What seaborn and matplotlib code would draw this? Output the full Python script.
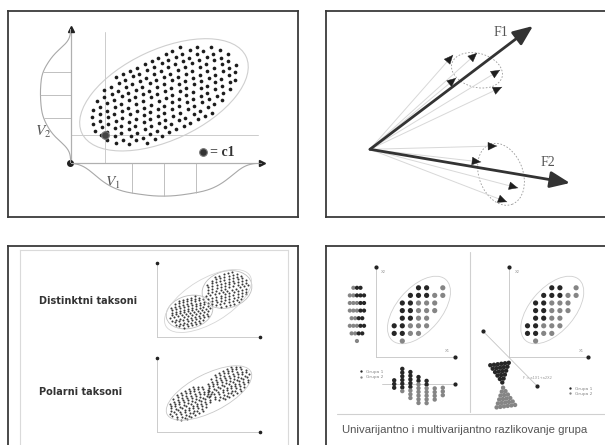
import numpy as np
import pandas as pd
import matplotlib
matplotlib.use("Agg")
import matplotlib.pyplot as plt
import seaborn as sns
from matplotlib.patches import Ellipse
from matplotlib.transforms import Affine2D
from matplotlib.lines import Line2D

# ---------------------------------------------------------------- data
# dot pattern of a 2:1 cloud (v row, u positions), in hundredths
TEMPLATE_ROWS = [
    (-88, [-86, -64, -47, -27, -9, 12, 29, 51, 68, 87]),
    (-72, [-128, -108, -91, -70, -53, -31, -14, 7, 24, 46, 63, 84, 101, 122]),
    (-56, [-154, -137, -115, -99, -77, -61, -39, -22, -1, 17, 38, 55, 76, 94, 115, 132, 152]),
    (-40, [-171, -150, -133, -112, -95, -73, -56, -35, -18, 3, 21, 42, 59, 80, 97, 118, 136, 157, 173]),
    (-24, [-181, -164, -142, -125, -105, -87, -66, -49, -28, -11, 11, 28, 49, 66, 88, 105, 126, 143, 164, 180]),
    (-8, [-188, -170, -153, -132, -115, -94, -77, -56, -39, -18, 1, 18, 39, 56, 78, 95, 116, 133, 154, 171, 189]),
    (8, [-186, -168, -147, -130, -109, -92, -71, -53, -32, -15, 6, 23, 44, 61, 82, 99, 120, 137, 159, 176]),
    (24, [-181, -159, -142, -121, -104, -83, -66, -45, -28, -7, 11, 32, 49, 70, 87, 108, 125, 146, 163, 182]),
    (40, [-171, -154, -133, -116, -95, -78, -57, -40, -19, -2, 19, 36, 57, 74, 95, 112, 133, 150, 170]),
    (56, [-153, -135, -114, -97, -76, -59, -38, -21, 0, 17, 38, 55, 77, 94, 115, 132, 152]),
    (72, [-126, -109, -87, -70, -49, -32, -11, 6, 27, 44, 65, 82, 103, 121]),
    (88, [-87, -70, -49, -32, -11, 8, 25, 46, 63, 85]),
]

# panel A (V1, V2 scatter)
CLOUD_A_CENTER = (4.87, 3.56)
CLOUD_A_SCALE = 2.15
CLOUD_A_ANGLE = 25
CENTROID_A = (1.77, 1.47)
AXIS_A = (10.0, 7.0)

# panel B (factor vectors)
F_NAMES = ["F1", "F2"]
F_X = [16.3, 20.0]
F_Y = [12.33, -3.37]
VEC_X = [8.3, 10.7, 8.6, 13.0, 13.2, 12.7, 11.1, 14.8, 13.7]
VEC_Y = [9.43, 9.63, 7.13, 7.93, 6.23, 0.33, -1.27, -3.87, -5.27]

# panel C (taxa)
TAXA_TITLES = ["Distinktni taksoni", "Polarni taksoni"]
DIST_CX = [3.25, 7.0]
DIST_CY = [2.5, 4.75]
DIST_SU = [1.08, 1.15]
DIST_SV = [1.55, 1.75]
POLAR_CX = [3.3, 7.1]
POLAR_CY = [2.9, 4.9]
POLAR_SU = [1.2, 1.2]
POLAR_SV = [1.5, 1.5]

# panel D (groups on a grid)
GRID_C = [3, 4, 6, 2, 3, 4, 5, 6, 1, 2, 3, 4, 5, 1, 2, 3, 4, 5, 1, 2, 3, 4,
          0, 1, 2, 3, 4, 0, 1, 2, 3, 1]
GRID_R = [7, 7, 7, 6, 6, 6, 6, 6, 5, 5, 5, 5, 5, 4, 4, 4, 4, 4, 3, 3, 3, 3,
          2, 2, 2, 2, 2, 1, 1, 1, 1, 0]
GRID_G = [1, 1, 2, 1, 1, 1, 2, 2, 1, 1, 2, 2, 2, 1, 1, 2, 2, 2, 1, 1, 2, 2,
          1, 1, 2, 2, 2, 1, 1, 2, 2, 2]
GROUP_NAMES = {1: "Grupa 1", 2: "Grupa 2"}
STACK_COUNTS = [3, 7, 8, 8, 7, 4, 3]
STACK_CENTER_R = [-5.66, -5.13, -5.79, -6.45, -6.71, -6.97, -6.64]
HOUR_G1 = [6, 5, 4, 3, 2, 1]
HOUR_G2 = [1, 2, 3, 4, 5, 6]
TITLE_D = "Univarijantno i multivarijantno razlikovanje grupa"

# ---------------------------------------------------------------- setup
sns.set_theme(style="white")
plt.rcParams["font.family"] = ["DejaVu Sans"]
plt.rcParams["mathtext.fontset"] = "stix"

W, H = 605, 445
fig = plt.figure(figsize=(W / 100, H / 100), dpi=100)
fig.patch.set_facecolor("white")

DARK = "#3a3a3a"
GRAY_PAL = {"Grupa 1": "#262626", "Grupa 2": "#858585"}


def px_axes(x0, y0, x1, y1, z=1):
    ax = fig.add_axes([x0 / W, 1 - y1 / H, (x1 - x0) / W, (y1 - y0) / H], zorder=z)
    ax.set_facecolor("none")
    ax.set_xticks([])
    ax.set_yticks([])
    return ax


def frame(ax, sides=("left", "right", "top", "bottom"), color=DARK, lw=1.3):
    for k, sp in ax.spines.items():
        sp.set_visible(k in sides)
        sp.set_color(color)
        sp.set_linewidth(lw)


def clean(ax):
    ax.set_xlabel("")
    ax.set_ylabel("")
    ax.set_xticks([])
    ax.set_yticks([])


def fig_line(x0, y0, x1, y1, color="#d0d0d0", lw=0.8):
    fig.add_artist(Line2D([x0 / W, x1 / W], [1 - y0 / H, 1 - y1 / H],
                          color=color, lw=lw, transform=fig.transFigure))


tu = np.array([u for v, us in TEMPLATE_ROWS for u in us]) / 100.0
tv = np.array([v for v, us in TEMPLATE_ROWS for u in us]) / 100.0
TEMPLATE = np.column_stack([tu, tv])

# ================================================================ panel A
axA = px_axes(8, 10.5, 298, 216.5)
frame(axA)
sA = 19.15
trA = Affine2D().scale(CLOUD_A_SCALE).rotate_deg(CLOUD_A_ANGLE).translate(*CLOUD_A_CENTER)
ptsA = trA.transform(TEMPLATE)
dfA = pd.DataFrame({"V1": ptsA[:, 0], "V2": ptsA[:, 1]})

axA.add_patch(Ellipse(CLOUD_A_CENTER, 2 * 2.2 * CLOUD_A_SCALE, 2 * 1.1 * CLOUD_A_SCALE,
                      angle=CLOUD_A_ANGLE, fc="none", ec="#cfcfcf", lw=0.8))
axA.plot([CENTROID_A[0]] * 2, [0, 6.86], color="#cccccc", lw=0.7)
axA.plot([0, 9.8], [CENTROID_A[1]] * 2, color="#cccccc", lw=0.7)
axA.plot([0, AXIS_A[0]], [0, 0], color="#b0b0b0", lw=0.9)
axA.plot([0, 0], [0, AXIS_A[1]], color="#b0b0b0", lw=0.9)
sns.scatterplot(data=dfA, x="V1", y="V2", ax=axA, s=7, color="#1c1c1c",
                linewidth=0, legend=False, zorder=3)
axA.plot([AXIS_A[0]], [0], marker=">", color="#222", ms=4)
axA.plot([0], [AXIS_A[1]], marker="^", color="#222", ms=4)
axA.plot([-0.05], [-0.02], marker="o", color="#222", ms=4)
axA.plot([CENTROID_A[0]], [CENTROID_A[1]], marker="o", color="#444", ms=5.5,
         mec="#777", mew=0.8, zorder=4)
axA.plot([6.92], [0.57], marker="o", color="#333", ms=5.5, mec="#777", mew=0.8)
axA.text(7.25, 0.57, "= c1", fontsize=10, fontweight="bold", family="Liberation Serif",
         color="#333", va="center", ha="left")
axA.text(2.2, -1.04, "$V_1$", fontsize=11, color="#555", ha="center", va="center")
axA.text(-1.45, 1.62, "$V_2$", fontsize=11, color="#555", ha="center", va="center")
clean(axA)
axA.set_xlim(-(70.7 - 8) / sA, (298 - 70.7) / sA)
axA.set_ylim(-(216.5 - 163) / sA, (163 - 10.5) / sA)

# marginal of V1 (hanging below the axis)
insX = axA.inset_axes([0, -1.8, 10, 1.8], transform=axA.transData)
sns.kdeplot(x=dfA["V1"], ax=insX, color="#a8a8a8", lw=0.8, bw_adjust=0.75)
xd, yd = insX.lines[0].get_data()
insX.set_xlim(0, 10)
insX.set_ylim(yd.max() * 1.8 / 1.73, 0)
m, sd = dfA["V1"].mean(), dfA["V1"].std()
q = np.array([m - 0.85 * sd, m, m + 0.85 * sd])
insX.vlines(q, 0, np.interp(q, xd, yd), color="#b5b5b5", lw=0.6)
clean(insX)
insX.set_axis_off()

# marginal of V2 (left of the axis)
insY = axA.inset_axes([-1.7, 0, 1.7, 7], transform=axA.transData)
sns.kdeplot(y=dfA["V2"], ax=insY, color="#a8a8a8", lw=0.8, bw_adjust=0.75)
dd, yy = insY.lines[0].get_data()
insY.set_ylim(0, 7)
insY.set_xlim(dd.max() * 1.7 / 1.58, 0)
m, sd = dfA["V2"].mean(), dfA["V2"].std()
q = np.array([m - 0.9 * sd, m, m + 0.9 * sd])
order = np.argsort(yy)
insY.hlines(q, 0, np.interp(q, yy[order], dd[order]), color="#b5b5b5", lw=0.6)
clean(insY)
insY.set_axis_off()

# ================================================================ panel B
axB = px_axes(326, 10.5, 607, 216.5)
frame(axB, sides=("left", "top", "bottom"))
for x, y in zip(VEC_X, VEC_Y):
    axB.plot([0, x], [0, y], color="#d8d8d8", lw=0.7)
for x, y in zip(VEC_X, VEC_Y):
    L = np.hypot(x, y)
    axB.annotate("", xy=(x, y), xytext=(x - x / L * 0.05, y - y / L * 0.05),
                 arrowprops=dict(arrowstyle="-|>,head_length=0.55,head_width=0.25",
                                 color="#1e1e1e", lw=0.3, mutation_scale=11,
                                 shrinkA=0, shrinkB=0))
axB.add_patch(Ellipse((10.7, 7.9), 5.2, 3.4, angle=-15, fc="none", ec="#999",
                      lw=0.6, ls=(0, (2, 2))))
axB.add_patch(Ellipse((13.1, -2.5), 4.4, 6.4, angle=20, fc="none", ec="#999",
                      lw=0.6, ls=(0, (2, 2))))
for name, x, y in zip(F_NAMES, F_X, F_Y):
    axB.annotate("", xy=(x, y), xytext=(0, 0),
                 arrowprops=dict(arrowstyle="-|>,head_length=0.6,head_width=0.25",
                                 color="#333", lw=2.0, mutation_scale=20,
                                 shrinkA=0, shrinkB=0))
axB.text(12.4, 11.7, F_NAMES[0], fontsize=10, family="Liberation Serif", color="#555",
         ha="left", va="center")
axB.text(17.1, -1.37, F_NAMES[1], fontsize=10, family="Liberation Serif", color="#555",
         ha="left", va="center")
axB.set_xlim(-(370 - 326) / 10, (607 - 370) / 10)
axB.set_ylim(-(216.5 - 149.3) / 10, (149.3 - 10.5) / 10)
clean(axB)

# ================================================================ panel C
axC = px_axes(8, 246, 298, 447)
frame(axC, sides=("left", "right", "top"))
axCi = px_axes(20, 249.5, 287.5, 448)
frame(axCi, sides=("left", "right", "top"), color="#dadada", lw=0.8)

fig.text(39 / W, 1 - 301 / H, TAXA_TITLES[0], fontsize=7, fontweight="bold",
         color="#333", ha="left", va="center")
fig.text(39 / W, 1 - 392 / H, TAXA_TITLES[1], fontsize=7, fontweight="bold",
         color="#333", ha="left", va="center")


def taxa_axes(y_origin, y0, y1):
    ax = px_axes(145, y0, 292, y1, z=2)
    frame(ax, sides=())
    ax.plot([0, 0], [0, 7.4], color="#c4c4c4", lw=0.6)
    ax.plot([0, 10.3], [0, 0], color="#c4c4c4", lw=0.6)
    ax.plot([0], [7.4], marker="o", color="#222", ms=1.6)
    ax.plot([10.3], [0], marker="o", color="#222", ms=1.6)
    ax.set_xlim(-(157 - 145) / 10, (292 - 157) / 10)
    ax.set_ylim(-(y1 - y_origin) / 10, (y_origin - y0) / 10)
    return ax


def cloud(ax, cx, cy, su, sv, ang, step):
    tr = Affine2D().scale(su, sv).rotate_deg(ang).translate(cx, cy)
    p = tr.transform(TEMPLATE[::step])
    sns.scatterplot(x=p[:, 0], y=p[:, 1], ax=ax, s=2.2, color="#3a3a3a",
                    linewidth=0, legend=False)


axC1 = taxa_axes(337, 252, 350)
for cx, cy, su, sv in zip(DIST_CX, DIST_CY, DIST_SU, DIST_SV):
    axC1.add_patch(Ellipse((cx, cy), 4.4 * su, 2.1 * sv, angle=15, fc="none",
                           ec="#bdbdbd", lw=0.6))
    cloud(axC1, cx, cy, su, sv, 15, 2)
axC1.add_patch(Ellipse((5.1, 3.6), 9.8, 4.4, angle=31, fc="none", ec="#d6d6d6", lw=0.6))
clean(axC1)

axC2 = taxa_axes(432, 350, 446)
for cx, cy, su, sv in zip(POLAR_CX, POLAR_CY, POLAR_SU, POLAR_SV):
    cloud(axC2, cx, cy, su, sv, 27, 2)
axC2.add_patch(Ellipse((5.2, 3.9), 9.4, 3.8, angle=27, fc="none", ec="#c8c8c8", lw=0.6))
clean(axC2)

# ================================================================ panel D
axD = px_axes(326, 246, 607, 447)
frame(axD, sides=("left", "top"))
fig_line(470, 252, 470, 412)
fig_line(337, 414, 606, 414)
fig.text(465 / W, 1 - 430 / H, TITLE_D, fontsize=8.2, color="#555",
         family=["Liberation Sans", "DejaVu Sans"], ha="center", va="center")

grid = pd.DataFrame({"c": GRID_C, "r": GRID_R,
                     "grupa": [GROUP_NAMES[g] for g in GRID_G], "g": GRID_G})


def grid_axes(x0, x1, c0px):
    ax = px_axes(x0, 252, x1, 412, z=2)
    frame(ax, sides=())
    ax.plot([-2.25, -2.25], [-2.1, 9.8], color="#c4c4c4", lw=0.6)
    ax.plot([-2.25, 7.5], [-2.1, -2.1], color="#c4c4c4", lw=0.6)
    ax.plot([-2.25], [9.8], marker="o", color="#222", ms=2)
    ax.plot([7.5], [-2.1], marker="o", color="#222", ms=2)
    ax.add_patch(Ellipse((3.06, 4.08), 10.4, 5.6, angle=52, fc="none",
                         ec="#cfcfcf", lw=0.6))
    ax.text(-1.6, 8.9, "X2", fontsize=2.8, color="#999")
    ax.text(6.3, -1.4, "X1", fontsize=2.8, color="#999")
    ax.set_xlim((x0 - c0px) / 8.1, (x1 - c0px) / 8.1)
    ax.set_ylim((341 - 412) / 7.6, (341 - 252) / 7.6)
    return ax


def legend_at(ax, bx, by):
    sns.move_legend(ax, "center left", bbox_to_anchor=(bx, by), frameon=False,
                    title=None, fontsize=3.2, markerscale=0.45, handletextpad=0.1,
                    labelspacing=0.25, borderpad=0, borderaxespad=0)
    for t in ax.get_legend().get_texts():
        t.set_color("#888")


# left: univariate
axD1 = grid_axes(337, 470, 394.2)
sns.scatterplot(data=grid, x="c", y="r", hue="grupa", palette=GRAY_PAL, ax=axD1,
                s=14, linewidth=0)
legend_at(axD1, 0.15, 0.235)
rows = []
for r, g in grid.groupby("r"):
    gg = sorted(g["g"], reverse=True)
    n = len(gg)
    for k, grp in enumerate(gg):
        rows.append((-4.6 + (k - (n - 1) / 2) * 0.44, r, GROUP_NAMES[grp]))
rows = pd.DataFrame(rows, columns=["c", "r", "grupa"])
sns.scatterplot(data=rows, x="c", y="r", hue="grupa", palette=GRAY_PAL, ax=axD1,
                s=9, linewidth=0, legend=False)
R_LINE = -5.66
axD1.plot([-1.5, 7.5], [R_LINE, R_LINE], color="#c4c4c4", lw=0.6, zorder=0)
axD1.plot([7.5], [R_LINE], marker="o", color="#222", ms=2)
cols = []
for c, g in grid.groupby("c"):
    n = STACK_COUNTS[c]
    n_black = int(round(n * (g["g"] == 1).mean()))
    for k in range(n):
        grp = 1 if k < n_black else 2
        cols.append((c, STACK_CENTER_R[c] + ((n - 1) / 2 - k) * 0.487, GROUP_NAMES[grp]))
cols = pd.DataFrame(cols, columns=["c", "r", "grupa"])
sns.scatterplot(data=cols, x="c", y="r", hue="grupa", palette=GRAY_PAL, ax=axD1,
                s=10, linewidth=0, legend=False)
clean(axD1)

# right: multivariate
axD2 = grid_axes(470, 607, 527.5)
sns.scatterplot(data=grid, x="c", y="r", hue="grupa", palette=GRAY_PAL, ax=axD2,
                s=14, linewidth=0)
legend_at(axD2, 0.70, 0.13)
axD2.plot([-5.5, 1.17], [1.3, -5.9], color="#c4c4c4", lw=0.6, zorder=0)
axD2.plot([-5.5, 1.17], [1.3, -5.9], "o", color="#222", ms=2)
axD2.text(-0.6, -4.9, "F = a1X1+a2X2", fontsize=2.6, color="#999", va="center")
hg = []
for i, n in enumerate(HOUR_G1):
    for k in range(n):
        hg.append(((k - (n - 1) / 2) * 0.46, 2.9 - i * 0.49, "Grupa 1"))
for i, n in enumerate(HOUR_G2):
    for k in range(n):
        hg.append(((k - (n - 1) / 2) * 0.46, -0.25 - i * 0.49, "Grupa 2"))
hg = pd.DataFrame(hg, columns=["c", "r", "grupa"])
trH = Affine2D().rotate_deg(8).translate(-3.05, -5.9)
hxy = trH.transform(hg[["c", "r"]].to_numpy())
hg["c"], hg["r"] = hxy[:, 0], hxy[:, 1]
sns.scatterplot(data=hg, x="c", y="r", hue="grupa", palette=GRAY_PAL, ax=axD2,
                s=10, linewidth=0, legend=False)
clean(axD2)

fig.savefig("out.png", dpi=100, facecolor="white")
